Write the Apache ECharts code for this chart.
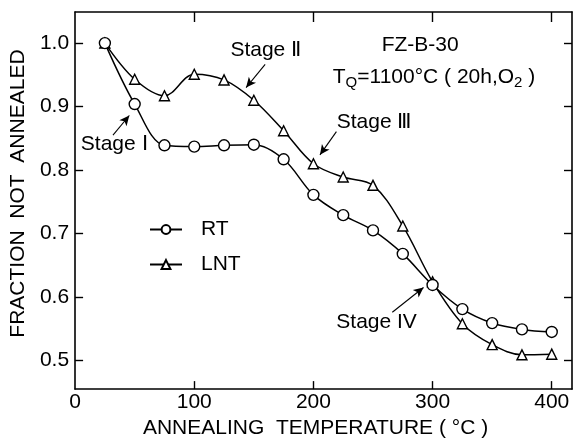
<!DOCTYPE html>
<html>
<head>
<meta charset="utf-8">
<script src="https://cdn.jsdelivr.net/npm/echarts@6/dist/echarts.min.js"></script>
<style>
html,body{margin:0;padding:0;background:#fff;}
#c{width:575px;height:444px;}
</style>
</head>
<body>
<div id="c"></div>
<script>
// ---- data ----
const temps = [25, 50, 75, 100, 125, 150, 175, 200, 225, 250, 275, 300, 325, 350, 375, 400];
const rtValues = [1.0, 0.904, 0.839, 0.837, 0.839, 0.840, 0.817, 0.761, 0.729, 0.705, 0.668, 0.619, 0.581, 0.559, 0.549, 0.545];
const lntValues = [1.0, 0.943, 0.917, 0.951, 0.942, 0.910, 0.862, 0.810, 0.789, 0.776, 0.712, 0.624, 0.558, 0.525, 0.509, 0.510];
const xTickValues = [0, 100, 200, 300, 400];
const xInnerTicks = [100, 200, 300, 400];
const yTickValues = [0.5, 0.6, 0.7, 0.8, 0.9, 1.0];
const seriesNames = ['RT', 'LNT'];
const xTitle = 'ANNEALING  TEMPERATURE ( °C )';
const yTitle = 'FRACTION  NOT  ANNEALED';
// annotations in data space
const stageLabels = ['Stage Ⅰ', 'Stage Ⅱ', 'Stage Ⅲ', 'Stage IV'];
const stageTextAt = [[32.8, 0.840], [160, 0.9896], [250.9, 0.875], [253, 0.561]];
const stageArrowFrom = [[31.8, 0.855], [159.5, 0.9664], [219.3, 0.8605], [266.2, 0.576]];
const stageArrowTo = [[45.5, 0.886], [143.5, 0.930], [205.5, 0.824], [292.4, 0.615]];
const sampleTitle = 'FZ-B-30';
const sampleTitleAt = [289.6, 0.997];
const quenchAt = [301.2, 0.946];

const FONT = '"Liberation Sans", Arial, sans-serif';
const FS = 21;

const chart = echarts.init(document.getElementById('c'), null, {renderer: 'canvas'});

const black = '#000';
const baseAxis = {
  axisLine: {show: true, onZero: false, lineStyle: {color: black, width: 1.6}},
  splitLine: {show: false}
};

const option = {
  animation: false,
  backgroundColor: '#fff',
  grid: {left: 68, right: 3, top: 12, bottom: 49, containLabel: false},
  legend: {
    data: seriesNames,
    orient: 'vertical',
    left: 144,
    top: 214,
    itemWidth: 32,
    itemHeight: 11,
    itemGap: 14,
    selectedMode: false,
    textStyle: {fontFamily: FONT, fontSize: FS, color: black, padding: [0, 0, 0, 14]}
  },
  xAxis: [
    Object.assign({}, baseAxis, {
      type: 'value', position: 'bottom', min: 0, max: 417,
      name: xTitle, nameLocation: 'middle', nameGap: 20,
      nameTextStyle: {fontFamily: FONT, fontSize: FS, color: black, padding: [0, 16, 0, 0]},
      axisTick: {show: true, inside: true, length: 8, customValues: xInnerTicks, lineStyle: {color: black, width: 1.4}},
      axisLabel: {show: true, margin: 3, customValues: xTickValues, fontFamily: FONT, fontSize: FS, color: black}
    }),
    Object.assign({}, baseAxis, {
      type: 'value', position: 'top', min: 0, max: 417,
      axisTick: {show: true, inside: true, length: 10, customValues: xInnerTicks, lineStyle: {color: black, width: 1.4}},
      axisLabel: {show: false}
    })
  ],
  yAxis: [
    Object.assign({}, baseAxis, {
      type: 'value', position: 'left', min: 0.455, max: 1.049,
      name: yTitle, nameLocation: 'middle', nameGap: 29,
      nameTextStyle: {fontFamily: FONT, fontSize: FS, color: black, padding: [0, 0, 0, 14]},
      axisTick: {show: true, inside: true, length: 8, customValues: yTickValues, lineStyle: {color: black, width: 1.4}},
      axisLabel: {show: true, margin: 6, customValues: yTickValues, fontFamily: FONT, fontSize: FS, color: black,
        formatter: v => v.toFixed(1)}
    }),
    Object.assign({}, baseAxis, {
      type: 'value', position: 'right', min: 0.455, max: 1.049,
      axisTick: {show: true, inside: true, length: 8, customValues: yTickValues, lineStyle: {color: black, width: 1.4}},
      axisLabel: {show: false}
    })
  ],
  series: [
    {
      name: 'LNT', type: 'line', xAxisIndex: 0, yAxisIndex: 0,
      data: temps.map((t, i) => [t, lntValues[i]]),
      smooth: 0.35,
      symbol: 'triangle', symbolSize: 10,
      lineStyle: {color: black, width: 1.5},
      itemStyle: {color: '#fff', borderColor: black, borderWidth: 1.4},
      z: 2
    },
    {
      name: 'RT', type: 'line', xAxisIndex: 0, yAxisIndex: 0,
      data: temps.map((t, i) => [t, rtValues[i]]),
      smooth: 0.35,
      symbol: 'circle', symbolSize: 11,
      lineStyle: {color: black, width: 1.5},
      itemStyle: {color: '#fff', borderColor: black, borderWidth: 1.4},
      z: 3,
      markLine: {
        silent: true,
        symbol: ['none', 'arrow'],
        symbolSize: [7, 10],
        lineStyle: {color: black, width: 1.1, type: 'solid'},
        label: {show: false},
        emphasis: {disabled: true},
        data: stageArrowFrom.map((f, i) => [{coord: f}, {coord: stageArrowTo[i]}])
      }
    }
  ]
};
chart.setOption(option);

const toPx = p => chart.convertToPixel({xAxisIndex: 0, yAxisIndex: 0}, p);
const graphics = [];
stageLabels.forEach((lab, i) => {
  const p = toPx(stageTextAt[i]);
  graphics.push({type: 'text', x: p[0], y: p[1], silent: true,
    style: {text: lab, font: FS + 'px ' + FONT, fill: black, align: 'center', verticalAlign: 'middle'}});
});
const pt = toPx(sampleTitleAt);
graphics.push({type: 'text', x: pt[0], y: pt[1], silent: true,
  style: {text: sampleTitle, font: FS + 'px ' + FONT, fill: black, align: 'center', verticalAlign: 'middle'}});
const pq = toPx(quenchAt);
graphics.push({type: 'text', x: pq[0], y: pq[1], silent: true,
  style: {
    text: '{t|T}{s|Q}{t|=1100°C ( 20h,O}{s|2}{t| )}',
    align: 'center', verticalAlign: 'middle',
    rich: {
      t: {fontFamily: FONT, fontSize: FS, fill: black, lineHeight: 26, verticalAlign: 'middle'},
      s: {fontFamily: FONT, fontSize: 15, fill: black, lineHeight: 26, verticalAlign: 'bottom', padding: [8, 0, 0, 0]}
    }
  }});
chart.setOption({graphic: graphics});
</script>
</body>
</html>
